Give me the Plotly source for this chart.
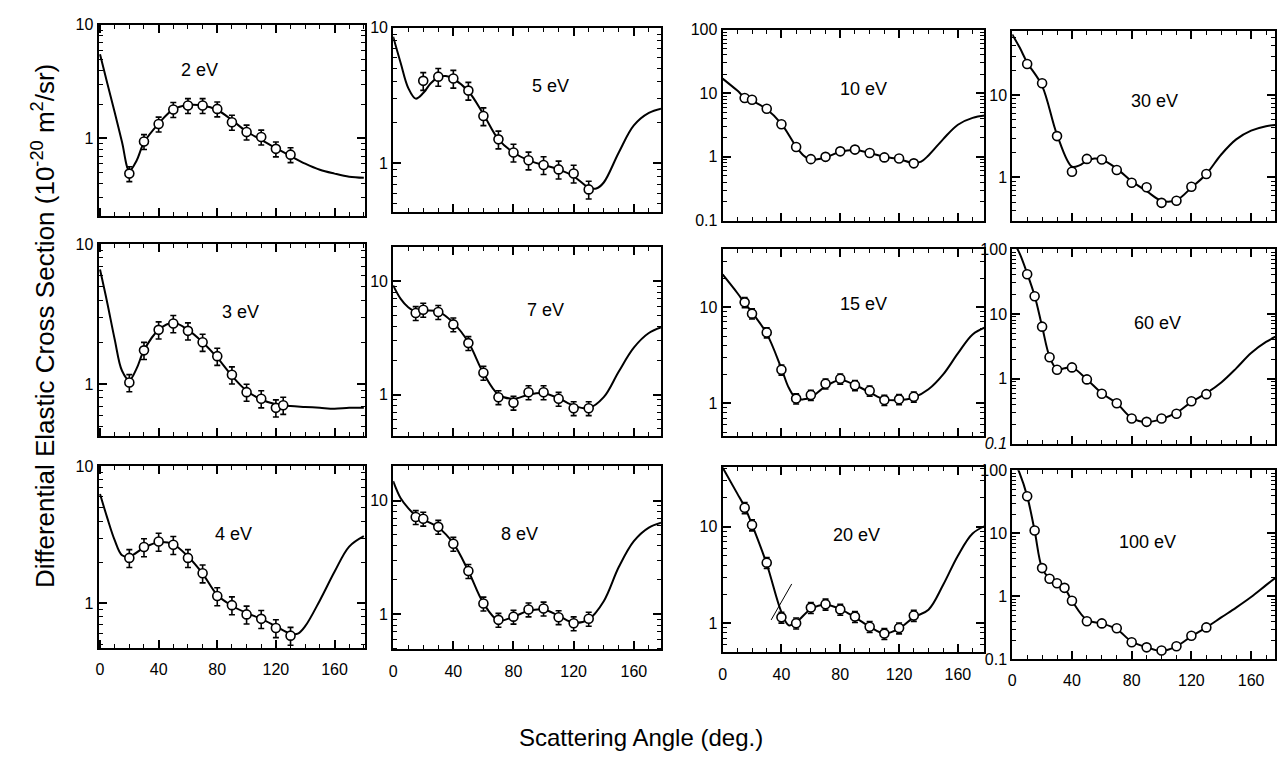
import math
import plotly.graph_objects as go

W, H = 1277, 776
FONT = "Liberation Sans, Arial, Helvetica, sans-serif"

# ---------------- data ----------------
panel_labels = ["2 eV", "5 eV", "10 eV", "30 eV",
                "3 eV", "7 eV", "15 eV", "60 eV",
                "4 eV", "8 eV", "20 eV", "100 eV"]

# measured DCS (10^-20 m^2/sr) vs scattering angle (deg)
ang_2 = [20, 30, 40, 50, 60, 70, 80, 90, 100, 110, 120, 130]
dcs_2 = [0.49, 0.94, 1.34, 1.80, 1.95, 1.95, 1.82, 1.39, 1.14, 1.03, 0.81, 0.72]
ang_5 = [20, 30, 40, 50, 60, 70, 80, 90, 100, 110, 120, 130]
dcs_5 = [4.06, 4.36, 4.22, 3.44, 2.23, 1.50, 1.20, 1.05, 0.97, 0.90, 0.84, 0.64]
ang_10 = [15, 20, 30, 40, 50, 60, 70, 80, 90, 100, 110, 120, 130]
dcs_10 = [8.4, 7.9, 5.7, 3.26, 1.43, 0.92, 1.0, 1.22, 1.30, 1.15, 0.98, 0.94, 0.79]
ang_30 = [10, 20, 30, 40, 50, 60, 70, 80, 90, 100, 110, 120, 130]
dcs_30 = [24, 14, 3.18, 1.17, 1.68, 1.65, 1.23, 0.86, 0.76, 0.49, 0.52, 0.77, 1.10]
ang_3 = [20, 30, 40, 50, 60, 70, 80, 90, 100, 110, 120, 125]
dcs_3 = [1.03, 1.75, 2.45, 2.72, 2.41, 2.0, 1.59, 1.17, 0.88, 0.79, 0.68, 0.71]
ang_7 = [15, 20, 30, 40, 50, 60, 70, 80, 90, 100, 110, 120, 130]
dcs_7 = [5.25, 5.61, 5.36, 4.17, 2.85, 1.56, 0.95, 0.85, 1.05, 1.05, 0.92, 0.76, 0.76]
ang_15 = [15, 20, 30, 40, 50, 60, 70, 80, 90, 100, 110, 120, 130]
dcs_15 = [11.2, 8.55, 5.44, 2.23, 1.12, 1.22, 1.60, 1.80, 1.54, 1.35, 1.08, 1.10, 1.17]
ang_60 = [10, 15, 20, 25, 30, 40, 50, 60, 70, 80, 90, 100, 110, 120, 130]
dcs_60 = [41, 18.7, 6.37, 2.15, 1.38, 1.50, 0.98, 0.59, 0.42, 0.244, 0.217, 0.244, 0.29, 0.45, 0.58]
ang_4 = [20, 30, 40, 50, 60, 70, 80, 90, 100, 110, 120, 130]
dcs_4 = [2.15, 2.58, 2.83, 2.68, 2.15, 1.66, 1.13, 0.97, 0.83, 0.77, 0.66, 0.58]
ang_8 = [15, 20, 30, 40, 50, 60, 70, 80, 90, 100, 110, 120, 130]
dcs_8 = [7.18, 6.94, 5.88, 4.17, 2.40, 1.24, 0.89, 0.95, 1.10, 1.12, 0.94, 0.83, 0.91]
ang_20 = [15, 20, 30, 40, 50, 60, 70, 80, 90, 100, 110, 120, 130]
dcs_20 = [15.7, 10.4, 4.24, 1.15, 1.0, 1.45, 1.57, 1.39, 1.17, 0.92, 0.78, 0.89, 1.20]
ang_100 = [10, 15, 20, 25, 30, 35, 40, 50, 60, 70, 80, 90, 100, 110, 120, 130]
dcs_100 = [38.8, 11.1, 2.8, 1.9, 1.61, 1.36, 0.85, 0.40, 0.37, 0.31, 0.186, 0.154, 0.137, 0.16, 0.235, 0.32]

# error bars (percent) per panel
err_pct = [15, 15, 0, 8, 14, 14, 12, 0, 15, 14, 13, 0]

# theory curves
th_ang_2 = [0, 5, 10, 15, 20, 25, 30, 40, 50, 60, 70, 80, 90, 100, 110, 120, 130, 140, 150, 160, 170, 180]
th_2 = [5.5, 3.05, 1.7, 0.93, 0.52, 0.64, 0.92, 1.35, 1.8, 1.97, 1.95, 1.78, 1.45, 1.15, 0.97, 0.82, 0.70, 0.60, 0.53, 0.49, 0.46, 0.45]
th_ang_5 = [0, 5, 10, 15, 20, 25, 30, 35, 40, 50, 60, 70, 80, 90, 100, 110, 120, 130, 135, 140, 150, 160, 170, 180]
th_5 = [8.6, 5.5, 3.6, 3.0, 3.3, 3.9, 4.3, 4.4, 4.2, 3.4, 2.3, 1.5, 1.2, 1.05, 0.97, 0.9, 0.8, 0.66, 0.65, 0.72, 1.2, 1.9, 2.35, 2.55]
th_ang_10 = [0, 10, 15, 20, 30, 40, 50, 55, 60, 70, 80, 90, 100, 110, 120, 130, 135, 140, 150, 160, 170, 180]
th_10 = [17, 11, 8.6, 7.6, 5.6, 3.3, 1.45, 1.05, 0.9, 0.98, 1.2, 1.28, 1.15, 1.0, 0.92, 0.8, 0.84, 1.05, 1.9, 3.2, 4.1, 4.5]
th_ang_30 = [0, 5, 10, 20, 30, 40, 45, 50, 55, 60, 70, 80, 90, 100, 110, 120, 130, 140, 150, 160, 170, 180]
th_30 = [55, 38, 25, 13, 3.3, 1.35, 1.4, 1.6, 1.7, 1.65, 1.28, 0.9, 0.68, 0.52, 0.53, 0.75, 1.1, 1.9, 2.9, 3.7, 4.2, 4.4]
th_ang_3 = [0, 5, 10, 15, 20, 25, 30, 40, 50, 60, 70, 80, 90, 100, 110, 120, 130, 140, 150, 160, 170, 180]
th_3 = [6.6, 3.8, 2.1, 1.25, 1.07, 1.3, 1.75, 2.45, 2.75, 2.45, 2.0, 1.55, 1.15, 0.9, 0.78, 0.72, 0.70, 0.69, 0.68, 0.67, 0.68, 0.68]
th_ang_7 = [0, 5, 10, 15, 20, 30, 40, 50, 60, 70, 80, 90, 100, 110, 120, 130, 140, 150, 160, 170, 180]
th_7 = [9.2, 7.0, 5.9, 5.4, 5.5, 5.4, 4.3, 2.9, 1.55, 1.0, 0.92, 1.0, 1.03, 0.93, 0.8, 0.76, 0.95, 1.6, 2.6, 3.5, 4.0]
th_ang_15 = [0, 10, 15, 20, 30, 40, 45, 50, 55, 60, 70, 80, 90, 100, 110, 120, 130, 140, 150, 160, 170, 180]
th_15 = [21.8, 14, 11, 8.8, 5.3, 2.3, 1.45, 1.12, 1.1, 1.15, 1.5, 1.75, 1.55, 1.3, 1.1, 1.08, 1.15, 1.4, 2.0, 3.3, 5.2, 6.3]
th_ang_60 = [0, 5, 10, 15, 20, 25, 30, 35, 40, 50, 60, 70, 80, 90, 100, 110, 120, 130, 140, 150, 160, 170, 180]
th_60 = [140, 85, 42, 19, 6.4, 2.2, 1.4, 1.45, 1.5, 0.98, 0.6, 0.42, 0.25, 0.215, 0.24, 0.3, 0.44, 0.6, 0.88, 1.45, 2.5, 3.7, 4.9]
th_ang_4 = [0, 5, 10, 15, 20, 30, 40, 50, 60, 70, 80, 90, 100, 110, 120, 130, 135, 140, 150, 160, 170, 180]
th_4 = [6.3, 4.2, 2.9, 2.25, 2.2, 2.55, 2.8, 2.7, 2.2, 1.65, 1.15, 0.96, 0.85, 0.77, 0.68, 0.6, 0.6, 0.68, 1.05, 1.7, 2.6, 3.1]
th_ang_8 = [0, 5, 10, 15, 20, 30, 40, 50, 60, 70, 80, 90, 100, 110, 120, 130, 140, 150, 160, 170, 180]
th_8 = [14.9, 10.5, 8.6, 7.4, 6.8, 5.8, 4.2, 2.4, 1.25, 0.88, 0.95, 1.07, 1.1, 0.97, 0.84, 0.9, 1.3, 2.6, 4.4, 5.8, 6.5]
th_ang_20 = [0, 10, 15, 20, 30, 40, 45, 50, 60, 70, 80, 90, 100, 110, 120, 130, 140, 150, 160, 170, 180]
th_20 = [41, 22, 16, 10.5, 4.1, 1.3, 0.95, 1.02, 1.4, 1.55, 1.4, 1.15, 0.92, 0.78, 0.88, 1.15, 1.38, 2.5, 5.0, 8.5, 10.4]
th_ang_100 = [0, 5, 10, 15, 20, 25, 30, 35, 40, 50, 60, 70, 80, 90, 100, 110, 120, 130, 140, 150, 160, 170, 180]
th_100 = [160, 90, 39, 11, 2.8, 1.9, 1.6, 1.35, 0.85, 0.42, 0.37, 0.3, 0.19, 0.155, 0.135, 0.16, 0.23, 0.32, 0.46, 0.66, 0.97, 1.5, 2.3]

# stray pen stroke in the 20 eV panel
stray_ang = [33, 47]
stray_val = [1.08, 2.55]

# y-axis ranges per panel (data units)
y_lo = [0.21, 0.44, 0.1, 0.3, 0.43, 0.434, 0.46, 0.1, 0.477, 0.49, 0.5, 0.1]
y_hi = [10, 10, 100, 61, 10, 20, 40, 100, 10, 20, 41, 100]

exp_ang = [ang_2, ang_5, ang_10, ang_30, ang_3, ang_7, ang_15, ang_60, ang_4, ang_8, ang_20, ang_100]
exp_dcs = [dcs_2, dcs_5, dcs_10, dcs_30, dcs_3, dcs_7, dcs_15, dcs_60, dcs_4, dcs_8, dcs_20, dcs_100]
th_ang = [th_ang_2, th_ang_5, th_ang_10, th_ang_30, th_ang_3, th_ang_7, th_ang_15, th_ang_60, th_ang_4, th_ang_8, th_ang_20, th_ang_100]
th_val = [th_2, th_5, th_10, th_30, th_3, th_7, th_15, th_60, th_4, th_8, th_20, th_100]

x_ticks = [0, 40, 80, 120, 160]
y_decades = [0.1, 1, 10, 100]
y_decade_text = ["0.1", "1", "10", "100"]

# ---------------- layout geometry (pixels) ----------------
boxes = [
    (95, 363, 17, 212), (391, 660, 20, 208), (722, 985, 22, 217), (1013, 1277, 23, 217),
    (95, 363, 241, 437), (391, 660, 244, 437), (722, 985, 246, 437), (1013, 1277, 246, 445),
    (95, 363, 468, 653), (391, 660, 468, 655), (722, 985, 469, 658), (1013, 1277, 472, 665),
]
x_ranges = [(-1, 181), (0, 178), (0, 178), (0, 176)]
label_pos = [(196, 63), (549, 80), (864, 83), (1156, 95),
             (238, 310), (544, 308), (864, 302), (1159, 322),
             (231, 537), (518, 537), (857, 538), (1149, 545)]

fig = go.Figure()
layout = dict(
    width=W, height=H, margin=dict(l=0, r=0, t=0, b=0),
    paper_bgcolor="white", plot_bgcolor="white", showlegend=False,
    font=dict(family=FONT, color="black"),
)

minor_y = [m * 10 ** e for e in range(-1, 3) for m in range(2, 10)]
annotations = []
for i in range(12):
    r, c = divmod(i, 4)
    n = i + 1
    xa = "x" if n == 1 else f"x{n}"
    ya = "y" if n == 1 else f"y{n}"
    x0, x1, y0, y1 = boxes[i]

    fig.add_trace(go.Scatter(
        x=th_ang[i], y=th_val[i], mode="lines",
        line=dict(color="black", width=2, shape="spline", smoothing=1.0),
        xaxis=xa, yaxis=ya, hoverinfo="skip"))
    if i == 10:
        fig.add_trace(go.Scatter(
            x=stray_ang, y=stray_val, mode="lines",
            line=dict(color="black", width=1), xaxis=xa, yaxis=ya, hoverinfo="skip"))
    fig.add_trace(go.Scatter(
        x=exp_ang[i], y=exp_dcs[i], mode="markers",
        marker=dict(symbol="circle", size=9, color="white", line=dict(color="black", width=1.6)),
        error_y=dict(type="percent", value=err_pct[i], visible=err_pct[i] > 0,
                     color="black", thickness=1.6, width=3),
        xaxis=xa, yaxis=ya))

    common = dict(showline=True, linecolor="black", linewidth=2, mirror="allticks",
                  ticks="inside", tickcolor="black", tickwidth=1.5, showgrid=False,
                  zeroline=False, tickfont=dict(family=FONT, size=16, color="black"))
    xr = x_ranges[c]
    xdict = dict(
        domain=[x0 / W, x1 / W], range=list(xr), anchor=ya,
        tickmode="array", tickvals=x_ticks, ticklen=8,
        showticklabels=(r == 2),
        minor=dict(tickmode="array", tickvals=list(range(0, 181, 10)), ticks="inside",
                   ticklen=4, tickwidth=1.3, tickcolor="black", showgrid=False),
        **common)
    if r == 2:
        xdict["ticklabelstandoff"] = 6
    layout["xaxis" if n == 1 else f"xaxis{n}"] = xdict

    lo, hi = y_lo[i], y_hi[i]
    vals, texts = [], []
    for v, t in zip(y_decades, y_decade_text):
        if lo * 0.999 <= v <= hi * 1.001:
            vals.append(v)
            texts.append("<i>0.1</i>" if (i == 7 and v == 0.1) else t)
    layout["yaxis" if n == 1 else f"yaxis{n}"] = dict(
        type="log", domain=[1 - y1 / H, 1 - y0 / H],
        range=[math.log10(lo) - 0.002, math.log10(hi) + 0.002], anchor=xa,
        tickmode="array", tickvals=vals, ticktext=texts, ticklen=8,
        minor=dict(tickmode="array", tickvals=[m for m in minor_y if lo < m < hi],
                   ticks="inside", ticklen=4, tickwidth=1.3, tickcolor="black", showgrid=False),
        **common)

    lx, ly = label_pos[i]
    annotations.append(dict(text=panel_labels[i], x=lx / W, y=1 - ly / H, xref="paper", yref="paper",
                            showarrow=False, xanchor="center", yanchor="middle",
                            font=dict(family=FONT, size=18, color="black")))

annotations.append(dict(text="Differential Elastic Cross Section (10<sup>-20</sup> m<sup>2</sup>/sr)",
                        x=40 / W, y=1 - 325 / H, xref="paper", yref="paper", textangle=-90,
                        showarrow=False, xanchor="center", yanchor="middle",
                        font=dict(family=FONT, size=26, color="black")))
annotations.append(dict(text="Scattering Angle (deg.)", x=640 / W, y=1 - 745 / H,
                        xref="paper", yref="paper", showarrow=False,
                        xanchor="center", yanchor="middle",
                        font=dict(family=FONT, size=24, color="black")))
layout["annotations"] = annotations
fig.update_layout(**layout)
fig.write_html("out.html")
